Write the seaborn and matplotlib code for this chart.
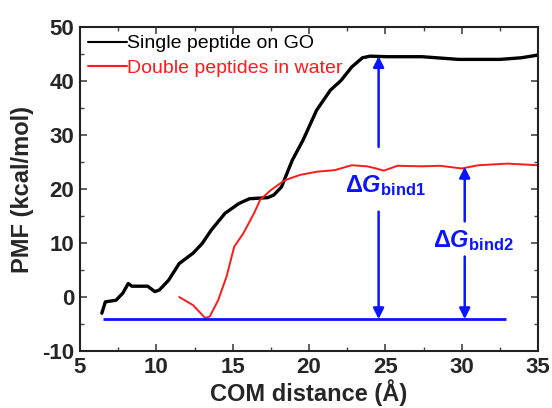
import numpy as np
import matplotlib
matplotlib.use("Agg")
import matplotlib.pyplot as plt
import seaborn as sns

# single peptide on GO (black)
single_x = [6.43, 6.66, 7.36, 7.8, 8.16, 8.4, 9.43, 9.9, 10.2, 10.8, 11.5, 12.4, 13.0, 13.6,
            14.5, 15.4, 16.1, 17.3, 17.7, 18.2, 18.9, 19.6, 20.5, 21.4, 22.1, 22.8, 23.5,
            24.0, 25.1, 27.4, 29.8, 32.5, 33.9, 35.0]
single_y = [-3.0, -0.9, -0.6, 0.7, 2.5, 2.0, 2.0, 1.0, 1.3, 3.1, 6.2, 8.1, 9.9, 12.4,
            15.5, 17.3, 18.2, 18.4, 18.9, 20.4, 25.3, 29.0, 34.6, 38.3, 40.1, 42.6, 44.3,
            44.6, 44.5, 44.5, 44.0, 44.0, 44.3, 44.8]

# double peptides in water (red)
double_x = [11.5, 12.4, 12.9, 13.2, 13.5, 14.05, 14.6, 15.1, 15.7, 16.4, 16.8, 17.5, 18.4,
            19.4, 20.5, 21.7, 22.8, 23.8, 24.4, 24.9, 25.8, 27.4, 28.6, 30.0, 31.1, 33.0, 35.0]
double_y = [0.0, -1.5, -3.0, -3.9, -3.6, -0.6, 3.8, 9.3, 11.8, 15.5, 18.0, 19.8, 21.6,
            22.6, 23.2, 23.5, 24.4, 24.2, 23.8, 23.4, 24.3, 24.2, 24.3, 23.8, 24.4, 24.7, 24.4]

baseline = -4.1
baseline_x = [6.5, 32.9]
bind1_x, bind1_top, bind1_gap = 24.56, 44.6, (15.8, 27.8)
bind2_x, bind2_top, bind2_gap = 30.2, 24.1, (7.5, 14.0)

sns.set_theme(style="ticks")
plt.rcParams['font.family'] = ['Liberation Sans', 'DejaVu Sans']
plt.rcParams['axes.unicode_minus'] = False
plt.rcParams['mathtext.fontset'] = 'custom'
plt.rcParams['mathtext.rm'] = 'Liberation Sans:bold'
plt.rcParams['mathtext.bf'] = 'Liberation Sans:bold'
plt.rcParams['mathtext.it'] = 'Liberation Sans:italic:bold'

fig = plt.figure(figsize=(5.52, 4.08), dpi=100)
ax = fig.add_axes([80/552, 1 - 351/408, (538-80)/552, (351-27)/408])

sns.lineplot(x=single_x, y=single_y, color='black', lw=2.4, ax=ax,
             label='Single peptide on GO', estimator=None, sort=False)
sns.lineplot(x=double_x, y=double_y, color='#ff1a1a', lw=1.4, ax=ax,
             label='Double peptides in water', estimator=None, sort=False)

blue = '#0a14ff'
ax.hlines(baseline, baseline_x[0], baseline_x[1], color=blue, lw=2)

arrow = dict(arrowstyle='-|>', color=blue, lw=1.8, mutation_scale=16, shrinkA=0, shrinkB=0)
for xa, top, gap in [(bind1_x, bind1_top, bind1_gap), (bind2_x, bind2_top, bind2_gap)]:
    ax.annotate('', xy=(xa, top), xytext=(xa, gap[1]), arrowprops=arrow)
    ax.annotate('', xy=(xa, baseline), xytext=(xa, gap[0]), arrowprops=arrow)

ax.text(25.0, 20.7, r'$\Delta\mathit{G}_{\mathbf{bind1}}$', color=blue, fontsize=17,
        ha='center', va='center')
ax.text(30.8, 10.5, r'$\Delta\mathit{G}_{\mathbf{bind2}}$', color=blue, fontsize=17,
        ha='center', va='center')

ax.set_xlim(5, 35)
ax.set_ylim(-10, 50)
ax.set_xticks([5, 10, 15, 20, 25, 30, 35])
ax.set_yticks([-10, 0, 10, 20, 30, 40, 50])
ax.set_xticks(np.arange(7.5, 35, 5), minor=True)
ax.set_yticks(np.arange(-5, 50, 10), minor=True)
ax.tick_params(which='major', direction='in', top=True, right=True, length=5, width=1.2,
               color='#444444', labelsize=16, pad=4)
ax.tick_params(which='minor', direction='in', top=True, right=True, length=3, width=1.0,
               color='#444444')
for lab in ax.get_xticklabels() + ax.get_yticklabels():
    lab.set_fontweight('bold')
for sp in ax.spines.values():
    sp.set_linewidth(1.5)
    sp.set_color('#222222')

ax.set_xlabel('COM distance (\u00c5)', fontsize=17, fontweight='bold', labelpad=1)
ax.set_ylabel('PMF (kcal/mol)', fontsize=17, fontweight='bold', labelpad=6)

leg = ax.legend(loc='upper left', frameon=False, fontsize=14, handlelength=2.0,
                handletextpad=0.0, borderaxespad=0.1, borderpad=0.3, labelspacing=0.35,
                labelcolor='linecolor')
for h in leg.get_lines():
    h.set_linewidth(1.5)

fig.savefig('out.png', dpi=100)
